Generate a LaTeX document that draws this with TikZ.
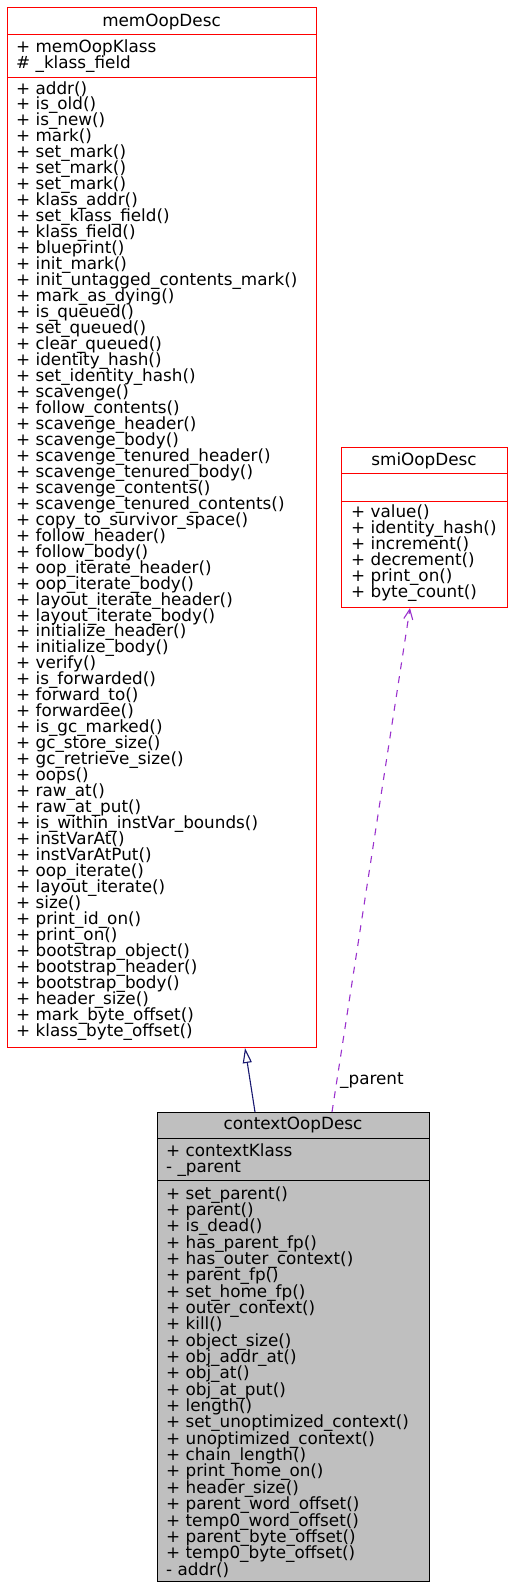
\documentclass[tikz,border=0pt]{standalone}
\usepackage{fontspec}
\setmainfont{DejaVu Sans}
\usetikzlibrary{arrows.meta}
\definecolor{clsred}{HTML}{FF0000}
\definecolor{inhblue}{HTML}{191970}
\definecolor{usepurple}{HTML}{9A32CD}
\definecolor{ctxgray}{HTML}{BFBFBF}
\begin{document}
\begin{tikzpicture}[x=1pt,y=-1pt,
  cls/.style={draw=clsred, line width=1pt, rectangle, inner sep=0pt, anchor=north west},
  ctxcls/.style={draw=black, fill=ctxgray, line width=1pt, rectangle, inner sep=0pt, anchor=north west},
  sepred/.style={draw=clsred, line width=1pt},
  sepblack/.style={draw=black, line width=1pt},
  txt/.style={font=\fontsize{16.8}{16}\selectfont, inner sep=0pt, anchor=base west},
  ttl/.style={font=\fontsize{16.8}{16}\selectfont, inner sep=0pt, anchor=base},
  inh/.style={draw=inhblue, line width=1.1pt, -{Triangle[open, length=15pt, width=9pt]}},
  uses/.style={draw=usepurple, line width=1.1pt, dash pattern=on 7pt off 7pt, -{Straight Barb[length=10pt, width=9pt]}},
  lbl/.style={font=\fontsize{16.8}{16}\selectfont, inner sep=0pt, anchor=base west}]
\useasboundingbox (0,0) rectangle (516,1583);

% memOopDesc
\node[cls, minimum width=309pt, minimum height=1040pt] (mem) at (7,7) {};
\draw[sepred] (7,34) -- (316,34);
\draw[sepred] (7,77) -- (316,77);
\node[ttl] (memt) at (161.5,26) {memOopDesc};
\node[txt] (ma0) at (16,52) {+ memOopKlass};
\node[txt] (ma1) at (16,68) {\# \_klass\_field};
\foreach \t [count=\i from 0] in {
 {+ addr()},{+ is\_old()},{+ is\_new()},{+ mark()},{+ set\_mark()},{+ set\_mark()},{+ set\_mark()},
 {+ klass\_addr()},{+ set\_klass\_field()},{+ klass\_field()},{+ blueprint()},{+ init\_mark()},
 {+ init\_untagged\_contents\_mark()},{+ mark\_as\_dying()},{+ is\_queued()},{+ set\_queued()},
 {+ clear\_queued()},{+ identity\_hash()},{+ set\_identity\_hash()},{+ scavenge()},
 {+ follow\_contents()},{+ scavenge\_header()},{+ scavenge\_body()},{+ scavenge\_tenured\_header()},
 {+ scavenge\_tenured\_body()},{+ scavenge\_contents()},{+ scavenge\_tenured\_contents()},
 {+ copy\_to\_survivor\_space()},{+ follow\_header()},{+ follow\_body()},{+ oop\_iterate\_header()},
 {+ oop\_iterate\_body()},{+ layout\_iterate\_header()},{+ layout\_iterate\_body()},
 {+ initialize\_header()},{+ initialize\_body()},{+ verify()},{+ is\_forwarded()},{+ forward\_to()},
 {+ forwardee()},{+ is\_gc\_marked()},{+ gc\_store\_size()},{+ gc\_retrieve\_size()},{+ oops()},
 {+ raw\_at()},{+ raw\_at\_put()},{+ is\_within\_instVar\_bounds()},{+ instVarAt()},{+ instVarAtPut()},
 {+ oop\_iterate()},{+ layout\_iterate()},{+ size()},{+ print\_id\_on()},{+ print\_on()},
 {+ bootstrap\_object()},{+ bootstrap\_header()},{+ bootstrap\_body()},{+ header\_size()},
 {+ mark\_byte\_offset()},{+ klass\_byte\_offset()}}
{\node[txt] (mm\i) at (16,{94+15.97*\i}) {\t};}

% smiOopDesc
\node[cls, minimum width=166pt, minimum height=160pt] (smi) at (341,447) {};
\draw[sepred] (341,473) -- (507,473);
\draw[sepred] (341,501) -- (507,501);
\node[ttl] (smit) at (424,465) {smiOopDesc};
\foreach \t [count=\i from 0] in {
 {+ value()},{+ identity\_hash()},{+ increment()},{+ decrement()},{+ print\_on()},{+ byte\_count()}}
{\node[txt] (sm\i) at (351,{517+16*\i}) {\t};}

% contextOopDesc
\node[ctxcls, minimum width=272pt, minimum height=469pt] (ctx) at (157,1112) {};
\draw[sepblack] (157,1138) -- (429,1138);
\draw[sepblack] (157,1180) -- (429,1180);
\node[ttl] (ctxt) at (293,1129) {contextOopDesc};
\node[txt] (ca0) at (166,1156) {+ contextKlass};
\node[txt] (ca1) at (166,1172) {- \_parent};
\foreach \t [count=\i from 0] in {
 {+ set\_parent()},{+ parent()},{+ is\_dead()},{+ has\_parent\_fp()},{+ has\_outer\_context()},
 {+ parent\_fp()},{+ set\_home\_fp()},{+ outer\_context()},{+ kill()},{+ object\_size()},
 {+ obj\_addr\_at()},{+ obj\_at()},{+ obj\_at\_put()},{+ length()},{+ set\_unoptimized\_context()},
 {+ unoptimized\_context()},{+ chain\_length()},{+ print\_home\_on()},{+ header\_size()},
 {+ parent\_word\_offset()},{+ temp0\_word\_offset()},{+ parent\_byte\_offset()},
 {+ temp0\_byte\_offset()},{- addr()}}
{\node[txt] (cm\i) at (166,{1199+16.35*\i}) {\t};}

% connectors
\draw[inh] ([xshift=98pt]ctx.north west) -- ([xshift=238pt]mem.south west);
\draw[uses] ([xshift=175pt]ctx.north west) -- ([xshift=69pt]smi.south west);
\node[lbl] (plbl) at (340,1084) {\_parent};
\end{tikzpicture}
\end{document}
